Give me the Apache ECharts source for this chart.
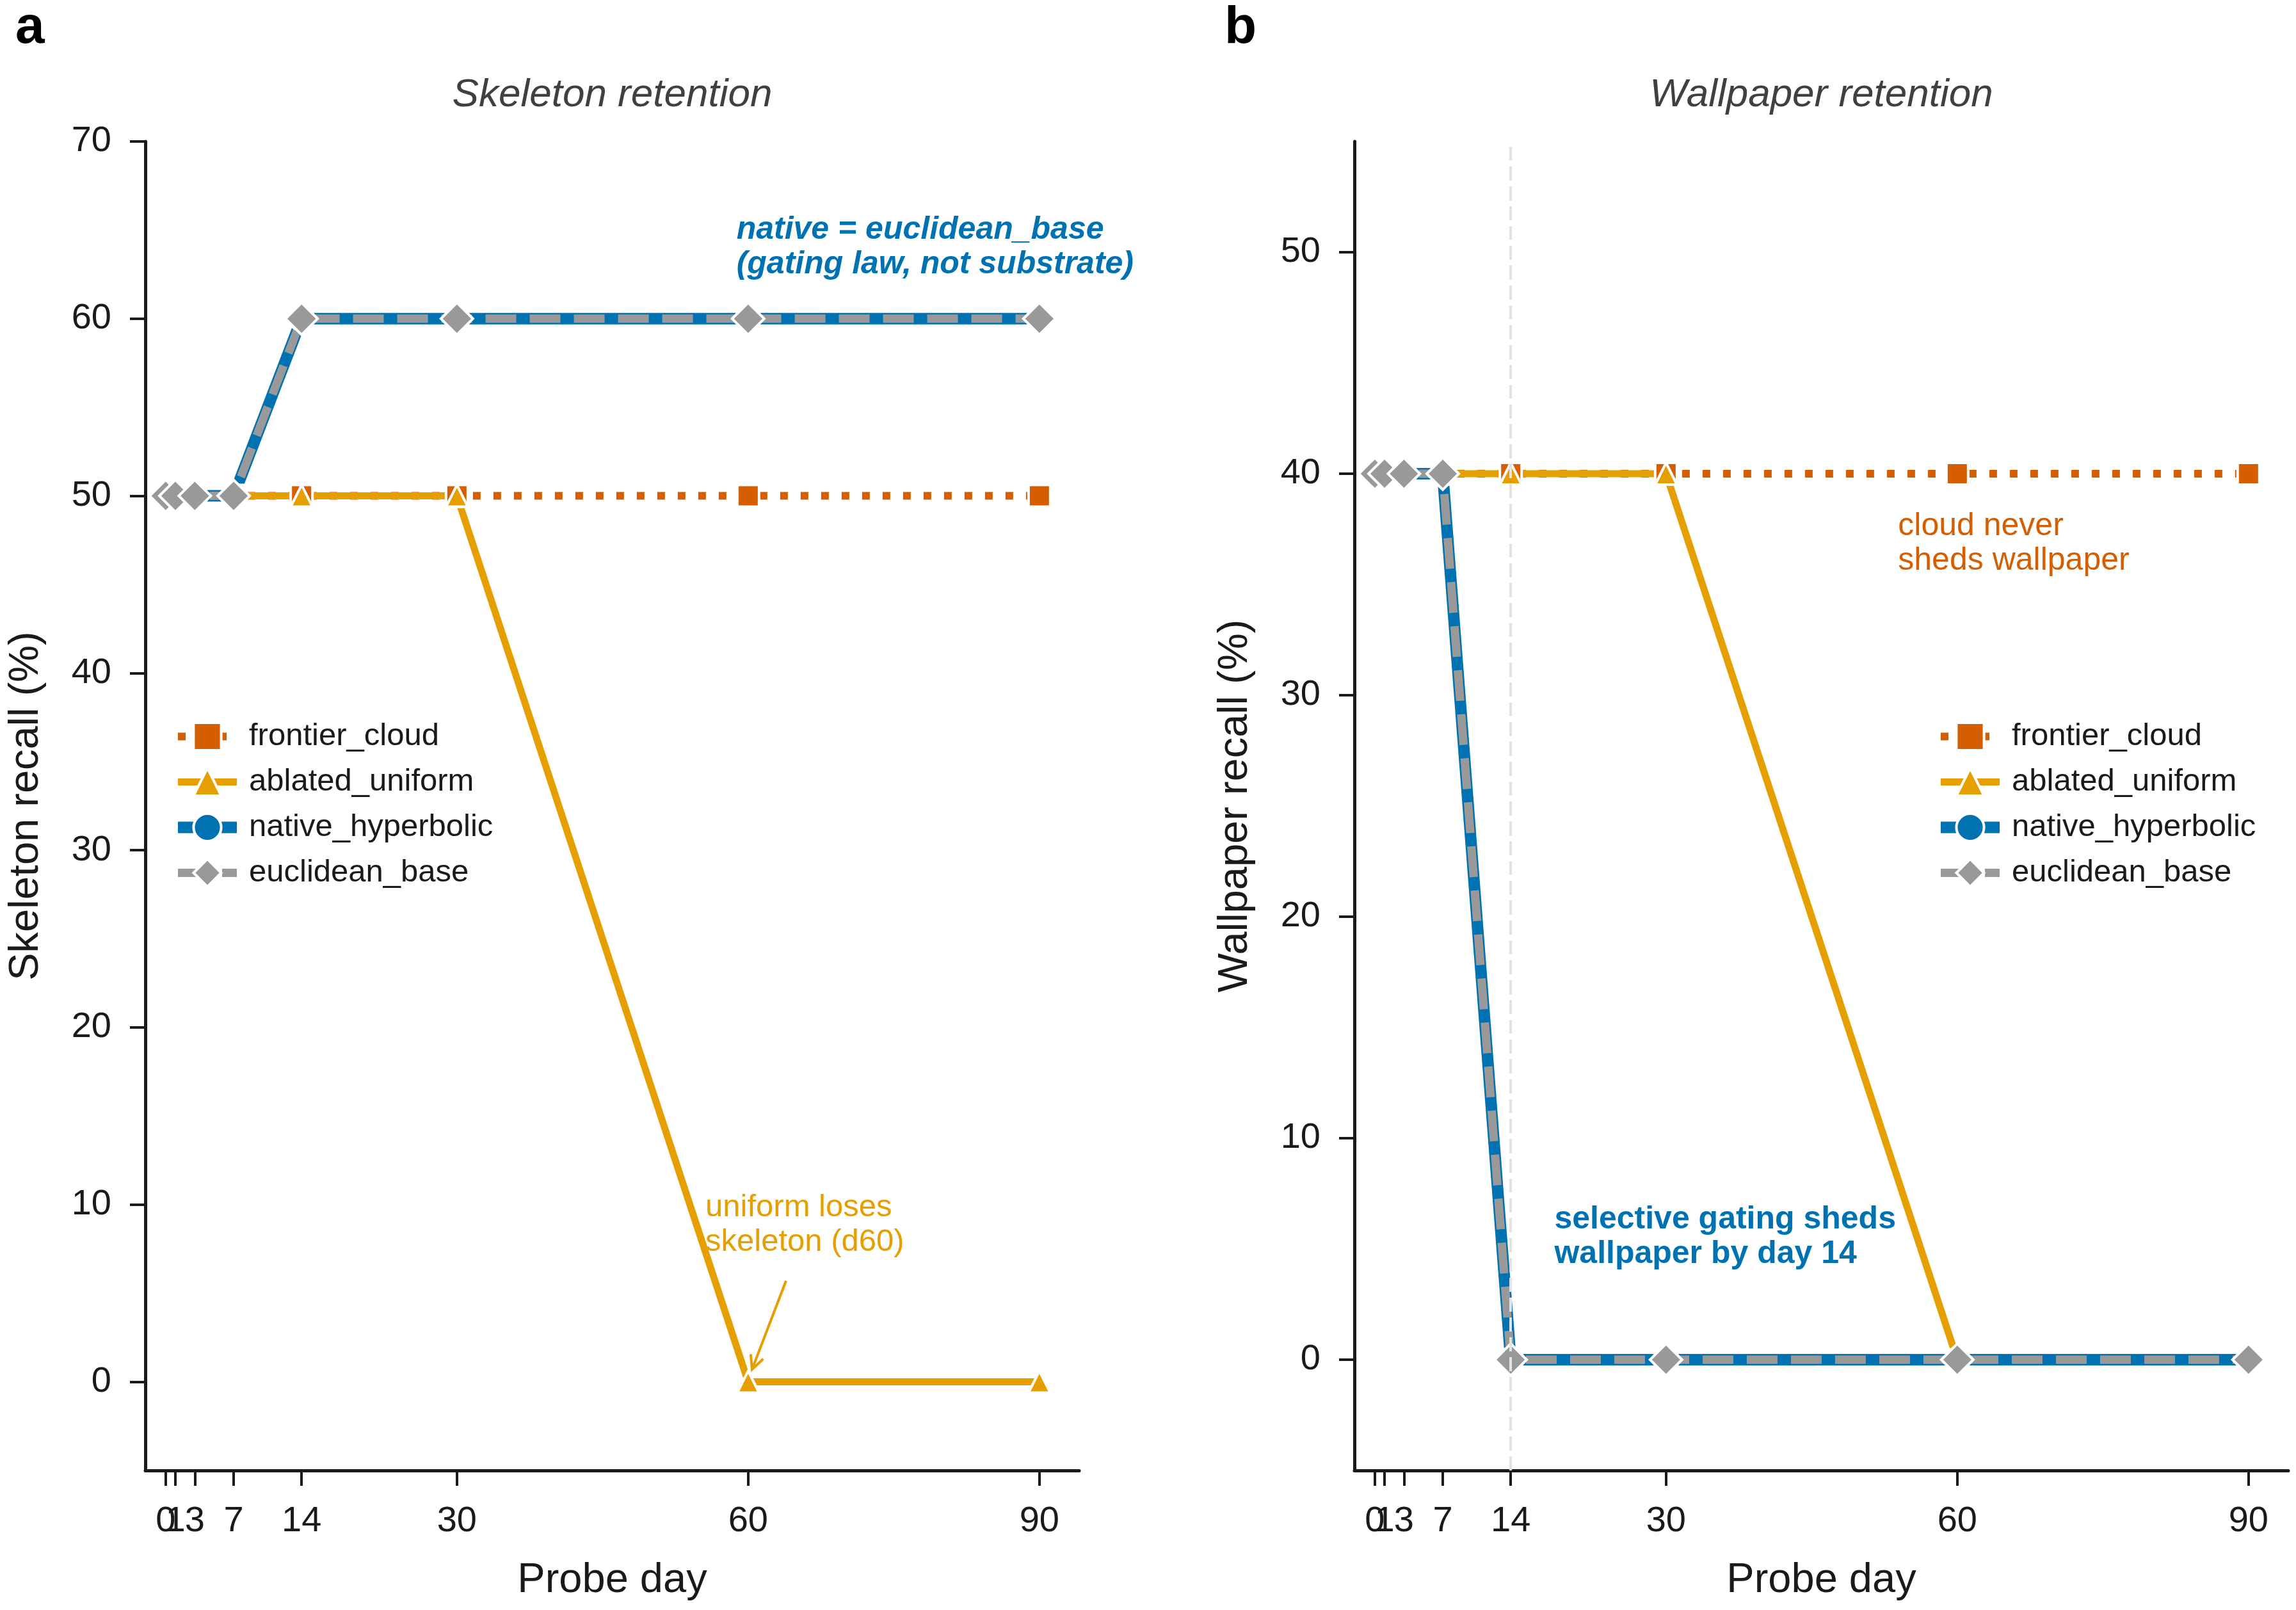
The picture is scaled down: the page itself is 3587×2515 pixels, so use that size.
<!DOCTYPE html>
<html>
<head>
<meta charset="utf-8">
<script src="https://cdn.jsdelivr.net/npm/echarts@6/dist/echarts.min.js"></script>
<style>
  html, body { margin: 0; padding: 0; background: #fff; }
  #chart { width: 3587px; height: 2515px; }
</style>
</head>
<body>
<div id="chart"></div>
<script>
// --- data ---
const days = [0, 1, 3, 7, 14, 30, 60, 90];
const seriesNames = ["frontier_cloud", "ablated_uniform", "native_hyperbolic", "euclidean_base"];

// panel a: skeleton recall (%)
const skelFrontier = [50, 50, 50, 50, 50, 50, 50, 50];
const skelAblated = [50, 50, 50, 50, 50, 50, 0, 0];
const skelNative = [50, 50, 50, 50, 60, 60, 60, 60];
const skelEuclid = [50, 50, 50, 50, 60, 60, 60, 60];

// panel b: wallpaper recall (%)
const wallFrontier = [40, 40, 40, 40, 40, 40, 40, 40];
const wallAblated = [40, 40, 40, 40, 40, 40, 0, 0];
const wallNative = [40, 40, 40, 40, 0, 0, 0, 0];
const wallEuclid = [40, 40, 40, 40, 0, 0, 0, 0];

const skelTicks = [0, 10, 20, 30, 40, 50, 60, 70];
const wallTicks = [0, 10, 20, 30, 40, 50];

// --- look ---
const FONT = '"Liberation Sans", Arial, Helvetica, sans-serif';
const INK = "#1a1a1a";
const styles = {
  frontier_cloud: { color: "#D55E00", width: 12, type: [12, 20], symbol: "rect", size: 34 },
  ablated_uniform: { color: "#E69F00", width: 11, type: "solid", symbol: "triangle", size: 34 },
  native_hyperbolic: { color: "#0072B2", width: 18, type: "solid", symbol: "circle", size: 38 },
  euclidean_base: { color: "#999999", width: 13, type: [48, 21], symbol: "diamond", size: 50 },
};
const GRID_LEFT = [227, 2116];
const GRID_TOP = 221;
const GRID_W = 1459;
const GRID_H = 2076;

function makeSeries(panel, name, values) {
  const s = styles[name];
  return {
    name,
    type: "line",
    xAxisIndex: panel,
    yAxisIndex: panel,
    data: days.map((d, i) => [d, values[i]]),
    symbol: s.symbol,
    symbolSize: s.size,
    showSymbol: true,
    lineStyle: { color: s.color, width: s.width, type: s.type, cap: "butt", join: "round" },
    itemStyle: { color: s.color, borderColor: "#fff", borderWidth: 4 },
    emphasis: { disabled: true },
    animation: false,
  };
}

// main x axis; a second, line-less copy carries the labels that the
// first one would drop for crowding (day 1 sits on top of day 0)
function xAxisFor(gridIndex, values, main) {
  return {
    type: "value",
    gridIndex,
    min: -2.1,
    max: 94.1,
    position: "bottom",
    name: main ? "Probe day" : "",
    nameLocation: "middle",
    nameGap: 140,
    nameTextStyle: { fontSize: 65, color: INK, fontFamily: FONT },
    axisLine: { show: main, onZero: false, lineStyle: { color: INK, width: 5 } },
    axisTick: { show: true, length: 24, customValues: values, lineStyle: { color: INK, width: 4 } },
    axisLabel: {
      customValues: values,
      fontSize: 56,
      color: INK,
      fontFamily: FONT,
      margin: 52,
      hideOverlap: false,
      showMinLabel: true,
      showMaxLabel: true,
    },
    splitLine: { show: false },
  };
}

function yAxisFor(gridIndex, max, ticks, name) {
  return {
    type: "value",
    gridIndex,
    min: -5,
    max,
    interval: 5,
    name,
    nameLocation: "middle",
    nameGap: 153,
    nameTextStyle: { fontSize: 65, color: INK, fontFamily: FONT },
    axisLine: { show: true, onZero: false, lineStyle: { color: INK, width: 5 } },
    axisTick: { show: true, length: 24, customValues: ticks, lineStyle: { color: INK, width: 4 } },
    axisLabel: { customValues: ticks, fontSize: 56, color: INK, fontFamily: FONT, margin: 53, hideOverlap: false },
    splitLine: { show: false },
  };
}

function legendFor(left) {
  return {
    orient: "vertical",
    left,
    top: 1121,
    itemWidth: 92,
    itemHeight: 54,
    itemGap: 22,
    selectedMode: false,
    itemStyle: { borderColor: "#fff", borderWidth: 4 },
    textStyle: { fontSize: 49, color: INK, fontFamily: FONT, lineHeight: 46, padding: [0, 0, 0, 14] },
    data: seriesNames.map((n) => ({ name: n, lineStyle: { width: styles[n].width } })),
  };
}

const chart = echarts.init(document.getElementById("chart"), null, { renderer: "canvas" });

const series = [
  makeSeries(0, "frontier_cloud", skelFrontier),
  makeSeries(0, "ablated_uniform", skelAblated),
  makeSeries(0, "native_hyperbolic", skelNative),
  makeSeries(0, "euclidean_base", skelEuclid),
  makeSeries(1, "frontier_cloud", wallFrontier),
  makeSeries(1, "ablated_uniform", wallAblated),
  makeSeries(1, "native_hyperbolic", wallNative),
  makeSeries(1, "euclidean_base", wallEuclid),
];
// day-14 guide in panel b
series[7].markLine = {
  silent: true,
  symbol: ["none", "none"],
  label: { show: false },
  lineStyle: { color: "#e3e3e3", width: 4, type: [22, 9] },
  data: [{ xAxis: 14 }],
  animation: false,
};

const mainDays = days.filter((d) => d !== 1);
const crowdedDays = [1];

chart.setOption({
  backgroundColor: "#fff",
  animation: false,
  grid: GRID_LEFT.map((left) => ({
    left,
    top: GRID_TOP,
    width: GRID_W,
    height: GRID_H,
    containLabel: false,
    outerBoundsMode: "none",
  })),
  xAxis: [
    xAxisFor(0, mainDays, true),
    xAxisFor(1, mainDays, true),
    xAxisFor(0, crowdedDays, false),
    xAxisFor(1, crowdedDays, false),
  ],
  yAxis: [
    yAxisFor(0, 70, skelTicks, "Skeleton recall (%)"),
    yAxisFor(1, 55, wallTicks, "Wallpaper recall (%)"),
  ],
  legend: [legendFor(264), legendFor(3018)],
  series,
});

// --- annotations (placed in data coordinates) ---
const notes = [
  { panel: 0, at: [58.8, 66.0], text: "native = euclidean_base\n(gating law, not substrate)", color: "#0072B2", font: "italic bold 50px " + FONT },
  { panel: 0, at: [55.6, 10.8], text: "uniform loses\nskeleton (d60)", color: "#E69F00", font: "49px " + FONT },
  { panel: 1, at: [53.9, 38.4], text: "cloud never\nsheds wallpaper", color: "#D55E00", font: "50px " + FONT },
  { panel: 1, at: [18.5, 7.1], text: "selective gating sheds\nwallpaper by day 14", color: "#0072B2", font: "bold 50px " + FONT },
];
const arrowFrom = [63.9, 5.7];
const arrowTo = [60.4, 0.7];

const toPx = (panel, p) => chart.convertToPixel({ xAxisIndex: panel, yAxisIndex: panel }, p);

const graphics = [];
notes.forEach((n) => {
  const [x, y] = toPx(n.panel, n.at);
  graphics.push({
    type: "text", x, y, silent: true,
    style: { text: n.text, fill: n.color, font: n.font, lineHeight: 54, textAlign: "left", textVerticalAlign: "top" },
  });
});

// arrow with open head
const a0 = toPx(0, arrowFrom);
const a1 = toPx(0, arrowTo);
const dx = a0[0] - a1[0], dy = a0[1] - a1[1];
const len = Math.hypot(dx, dy);
const ux = dx / len, uy = dy / len;
const head = (ang) => [
  a1[0] + 24 * (ux * Math.cos(ang) - uy * Math.sin(ang)),
  a1[1] + 24 * (ux * Math.sin(ang) + uy * Math.cos(ang)),
];
graphics.push({ type: "line", silent: true, shape: { x1: a0[0], y1: a0[1], x2: a1[0], y2: a1[1] }, style: { stroke: "#E69F00", lineWidth: 4 } });
graphics.push({ type: "polyline", silent: true, shape: { points: [head(0.45), a1, head(-0.45)] }, style: { stroke: "#E69F00", lineWidth: 4, fill: null } });

// panel titles and letters
["Skeleton retention", "Wallpaper retention"].forEach((t, i) => {
  graphics.push({
    type: "text", x: GRID_LEFT[i] + GRID_W / 2, y: 149, silent: true,
    style: { text: t, fill: "#404040", font: "italic 62px " + FONT, textAlign: "center", textVerticalAlign: "middle" },
  });
});
[["a", 24], ["b", 1913]].forEach(([t, x]) => {
  graphics.push({
    type: "text", x, y: 44, silent: true,
    style: { text: t, fill: "#000", font: "bold 82px " + FONT, textAlign: "left", textVerticalAlign: "middle" },
  });
});

chart.setOption({ graphic: graphics });
</script>
</body>
</html>
